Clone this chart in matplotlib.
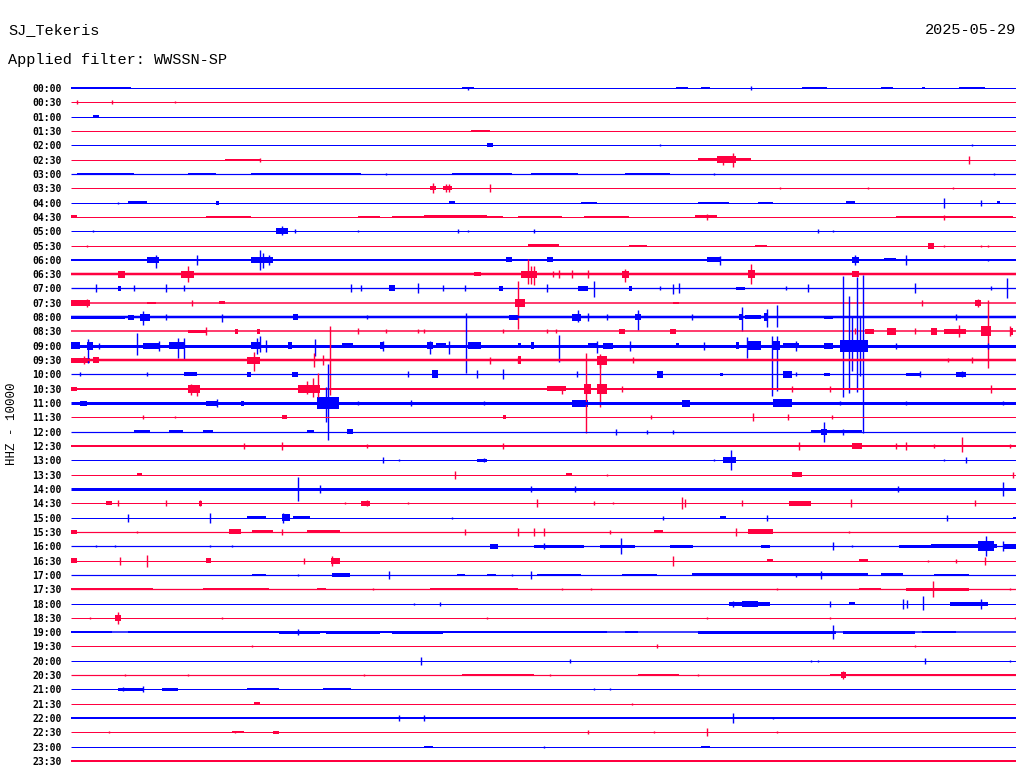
import matplotlib
matplotlib.use("Agg")
import matplotlib.pyplot as plt

STATION = "SJ_Tekeris"
DATE = "2025-05-29"
FILTER = "Applied filter: WWSSN-SP"
CHANNEL = "HHZ - 10000"

BLUE = "#0000ff"
RED = "#ff0040"

# one row per half hour, x axis = minutes into the row
row_labels = [f"{h:02d}:{m:02d}" for h in range(24) for m in (0, 30)]

# background noise level of each row (trace thickness, px)
row_noise = [1, 1, 1, 1, 1, 1, 1.2, 1, 1, 1, 1, 1, 2, 2.5, 1.3, 1.5,
             2.5, 1.5, 3, 2.5, 1.2, 2, 3, 1, 1.2, 2, 1, 1, 3, 1, 1, 1.2,
             1.2, 1, 1.2, 1.3, 1, 1, 1.5, 1, 1, 1.2, 1, 1, 2, 1, 1, 1.5]

# noisy stretches: (start min, end min, half amplitude px)
busy = {
    0: [(0.0, 1.9, 1.2), (12.4, 12.8, 1.2), (19.2, 19.6, 1.2), (20.0, 20.3, 1.2),
        (23.2, 24.0, 1.2), (25.7, 26.1, 1.2), (27.0, 27.1, 1), (28.2, 29.0, 1.2)],
    2: [(0.7, 0.9, 1.5)],
    3: [(12.7, 13.3, 0.8)],
    4: [(13.2, 13.4, 2)],
    5: [(4.9, 6.0, 0.8), (19.9, 21.6, 1.5), (20.5, 21.1, 3.5)],
    6: [(0.2, 2.0, 0.8), (3.7, 4.6, 1), (5.7, 9.2, 0.7), (12.1, 14.0, 1),
        (14.6, 16.1, 1), (17.6, 19.0, 1)],
    7: [(11.4, 11.6, 2), (11.8, 12.1, 2)],
    8: [(1.8, 2.4, 1.2), (4.6, 4.7, 2), (12.0, 12.2, 1.5), (16.2, 16.7, 1),
        (19.9, 20.9, 1), (21.8, 22.3, 1), (24.6, 24.9, 1.2), (29.4, 29.5, 1.2)],
    9: [(0.0, 0.2, 1.5), (4.3, 5.7, 1.2), (9.1, 9.8, 1), (10.2, 13.7, 1),
        (11.2, 13.2, 1.5), (14.2, 15.6, 1.2), (16.3, 17.7, 1), (19.8, 20.5, 1.5),
        (26.2, 29.9, 1.2)],
    10: [(6.5, 6.9, 3)],
    11: [(14.5, 15.5, 1.5), (17.7, 18.3, 1), (21.7, 22.1, 0.8), (27.2, 27.4, 3)],
    12: [(0.3, 2.4, 1), (2.4, 2.8, 3), (5.7, 6.4, 3), (13.8, 14.0, 2.5),
         (15.1, 15.3, 2.5), (20.2, 20.6, 2.5), (24.8, 25.0, 3), (25.8, 26.2, 1.5),
         (26.5, 27.1, 1.2)],
    13: [(1.5, 1.7, 3.5), (3.5, 3.9, 3.5), (12.8, 13.0, 2), (14.3, 14.8, 3.5),
         (17.5, 17.7, 3.5), (21.5, 21.7, 4), (24.8, 25.0, 3)],
    14: [(1.5, 1.6, 2.5), (10.1, 10.3, 3), (13.6, 13.7, 2.5), (16.1, 16.4, 2.5),
         (17.7, 17.8, 2.5), (21.1, 21.4, 1.5)],
    15: [(0.0, 0.6, 3), (2.4, 2.7, 1.2), (4.7, 4.9, 1.5), (14.1, 14.4, 4),
         (19.1, 19.3, 1.2), (28.7, 28.9, 3)],
    16: [(0.0, 1.7, 1.5), (1.8, 2.0, 2.5), (2.2, 2.5, 3.5), (7.05, 7.2, 3),
         (13.9, 14.2, 2.5), (15.9, 16.2, 3.5), (17.9, 18.1, 3), (21.2, 21.3, 3),
         (21.4, 21.9, 2), (22.0, 22.1, 4), (23.9, 24.2, 1.5)],
    17: [(3.7, 4.3, 1.5), (5.2, 5.3, 2.5), (5.9, 6.0, 2.5), (17.4, 17.6, 2.5),
         (19.0, 19.2, 2.5), (25.2, 25.5, 2.5), (25.9, 26.2, 3.5), (27.3, 27.5, 3.5),
         (27.7, 28.4, 2.5), (28.9, 29.2, 5), (29.8, 29.9, 3.5)],
    18: [(0.0, 0.3, 3.5), (0.5, 0.7, 4), (2.3, 2.8, 3), (3.1, 3.6, 3.5),
         (5.7, 6.0, 3.5), (6.9, 7.0, 3.5), (8.6, 8.95, 2.5), (9.8, 9.9, 3.5),
         (11.3, 11.5, 3.5), (11.6, 11.9, 2.5), (12.6, 13.0, 3.5), (14.2, 14.3, 2.5),
         (14.6, 14.7, 3.5), (16.4, 16.7, 2.5), (16.9, 17.2, 3), (19.2, 19.3, 2.5),
         (21.1, 21.2, 3.5), (21.5, 21.9, 4.5), (22.3, 22.5, 4.5), (22.6, 23.1, 2.5),
         (23.9, 24.2, 3), (24.4, 25.3, 6)],
    19: [(0.0, 0.6, 2.5), (0.7, 0.9, 3), (5.6, 6.0, 3.5), (14.2, 14.3, 4),
         (16.7, 17.0, 4.5)],
    20: [(3.6, 4.0, 2), (5.6, 5.7, 2.5), (7.0, 7.2, 2.5), (11.45, 11.65, 4),
         (18.6, 18.8, 3.5), (20.6, 20.7, 1.5), (22.6, 22.9, 3.5), (23.9, 24.1, 1.5),
         (26.5, 26.95, 1.5), (28.1, 28.4, 2.5)],
    21: [(0.0, 0.2, 2), (3.7, 4.1, 4), (7.2, 7.9, 4), (15.1, 15.7, 2.5),
         (16.3, 16.5, 5), (16.7, 17.0, 5)],
    22: [(0.3, 0.5, 2.5), (4.3, 4.65, 2.5), (5.4, 5.5, 2.5), (7.8, 8.5, 6),
         (15.9, 16.4, 3.5), (19.4, 19.65, 3.5), (22.3, 22.9, 4)],
    23: [(6.7, 6.85, 2), (13.7, 13.8, 2)],
    24: [(2.0, 2.5, 1.2), (3.1, 3.55, 1.2), (4.2, 4.5, 1.2), (7.5, 7.7, 1.2),
         (8.75, 8.95, 2.5), (23.5, 25.1, 1.5), (23.8, 24.0, 3)],
    25: [(0.0, 14.0, 1.2), (17.1, 18.4, 1.2), (19.9, 22.5, 1.2), (24.8, 25.1, 3)],
    26: [(12.9, 13.2, 1.5), (20.7, 21.1, 3)],
    27: [(2.1, 2.25, 1.5), (15.7, 15.9, 1.2), (22.9, 23.2, 2.5)],
    29: [(1.1, 1.3, 2), (4.05, 4.15, 2.5), (9.2, 9.5, 2.5), (22.8, 23.5, 2.5)],
    30: [(5.6, 6.2, 1.2), (6.7, 6.95, 3.5), (7.05, 7.6, 1.2), (20.6, 20.8, 1.5),
         (29.9, 30.0, 1)],
    31: [(0.0, 0.2, 2), (5.0, 5.4, 2.5), (5.75, 6.4, 1.5), (7.5, 8.55, 1.5),
         (18.5, 18.8, 1.5), (21.5, 22.3, 2.5)],
    32: [(13.3, 13.55, 2.5), (14.7, 16.3, 1.5), (16.8, 17.9, 1.5), (19.0, 19.75, 1.5),
         (21.9, 22.2, 1.5), (26.3, 27.3, 1.5), (27.3, 29.4, 2), (28.8, 29.3, 5),
         (29.6, 30.0, 2.5)],
    33: [(0.0, 0.2, 2.5), (4.3, 4.45, 2.5), (8.25, 8.55, 3), (22.1, 22.3, 1.5),
         (25.0, 25.3, 1.5)],
    34: [(5.75, 6.2, 1.2), (8.3, 8.85, 2), (12.25, 12.5, 1.2), (13.2, 13.5, 1.2),
         (14.8, 16.2, 1.2), (17.5, 18.6, 1.2), (19.7, 25.3, 1.5), (25.7, 26.4, 1.5),
         (27.4, 28.5, 1.2)],
    35: [(0.0, 2.6, 1.2), (4.2, 6.3, 1.2), (7.8, 8.1, 1.2), (11.4, 14.2, 1.2),
         (25.0, 25.7, 1.2), (26.5, 28.5, 1.5)],
    36: [(20.9, 22.2, 2), (21.3, 21.8, 3), (24.7, 24.9, 1.5), (27.9, 29.1, 2)],
    37: [(1.4, 1.6, 3)],
    38: [(0.0, 1.3, 1), (1.8, 17.0, 1), (6.6, 7.9, 1.5), (8.1, 9.8, 1.5),
         (10.2, 11.8, 1.5), (14.8, 15.5, 1.2), (17.6, 18.0, 1.2), (19.9, 24.3, 1.5),
         (24.5, 26.8, 1.5), (27.0, 28.1, 1.2)],
    41: [(12.4, 14.7, 0.8), (18.0, 19.3, 1.2), (24.1, 28.0, 1.2), (24.45, 24.6, 3),
         (28.0, 30.0, 1.2)],
    42: [(1.5, 2.3, 1.5), (2.9, 3.4, 1.2), (5.6, 6.6, 1), (8.0, 8.9, 1)],
    43: [(5.8, 6.0, 1.5)],
    44: [(0.0, 30.0, 1.2)],
    45: [(5.1, 5.5, 1), (6.4, 6.6, 1.2)],
    46: [(11.2, 11.5, 1), (20.0, 20.3, 1.2)],
    47: [(0.0, 30.0, 1)],
}

# single spikes: (minute, up px, down px)
spikes = {
    0: [(12.6, 1, 2), (21.6, 2, 2)],
    1: [(0.2, 2, 2), (1.3, 2, 2), (3.3, 1, 1)],
    4: [(18.7, 1, 1), (28.6, 1, 1)],
    5: [(6.0, 2, 2), (20.7, 4, 5), (21.0, 7, 7), (28.5, 4, 4)],
    6: [(10.0, 1, 1), (20.4, 1, 1), (29.3, 1, 1)],
    7: [(11.5, 5, 5), (11.9, 4, 4), (12.0, 4, 4), (13.3, 4, 4), (22.5, 1, 1),
        (25.3, 1, 1), (28.0, 1, 1)],
    8: [(1.5, 1, 1), (27.7, 5, 5), (28.9, 3, 3)],
    9: [(20.2, 3, 3), (27.7, 2, 3)],
    10: [(0.7, 1, 1), (6.7, 5, 4), (7.1, 2, 2), (9.1, 1, 1), (12.3, 2, 2),
         (12.6, 1, 1), (14.7, 2, 2), (23.7, 2, 2), (24.2, 1, 1)],
    11: [(0.5, 1, 1), (27.7, 1, 1), (28.9, 1, 1), (29.1, 1, 1)],
    12: [(2.7, 5, 8), (4.0, 5, 5), (6.0, 10, 10), (6.1, 7, 8), (6.3, 5, 5),
         (20.6, 4, 5), (24.9, 5, 5), (26.5, 5, 5), (29.1, 1, 1)],
    13: [(3.7, 8, 8), (14.5, 15, 10), (14.6, 8, 10), (14.7, 8, 11), (15.3, 3, 3),
         (15.5, 4, 4), (15.9, 4, 4), (16.4, 4, 4), (17.6, 5, 8), (21.6, 10, 10)],
    14: [(0.8, 4, 4), (2.0, 3, 3), (3.0, 4, 4), (3.6, 3, 3), (8.9, 4, 4),
         (9.2, 3, 3), (11.0, 5, 5), (11.8, 3, 3), (12.5, 3, 3), (15.1, 4, 4),
         (16.6, 7, 9), (18.7, 2, 2), (19.1, 4, 6), (19.3, 5, 5), (22.7, 2, 2),
         (23.4, 4, 4), (26.8, 5, 5), (29.2, 2, 2), (29.7, 10, 10)],
    15: [(0.5, 4, 4), (3.85, 3, 3), (14.2, 22, 26), (27.0, 3, 3), (28.8, 4, 4)],
    16: [(2.3, 6, 8), (3.0, 3, 3), (4.8, 3, 5), (9.4, 2, 2), (16.1, 7, 5),
         (16.4, 4, 4), (17.0, 3, 3), (18.0, 7, 13), (19.7, 3, 3), (21.3, 10, 14),
         (22.1, 8, 10), (22.4, 12, 10), (28.1, 3, 3)],
    17: [(4.3, 4, 4), (9.1, 3, 3), (10.0, 2, 2), (11.0, 2, 2), (11.2, 2, 2),
         (13.7, 2, 2), (15.1, 2, 2), (15.4, 2, 2), (24.9, 3, 3), (26.8, 3, 3),
         (28.2, 6, 6), (29.1, 31, 37), (29.8, 5, 5)],
    18: [(0.55, 7, 17), (0.9, 3, 3), (2.1, 13, 9), (2.8, 5, 5), (3.4, 8, 12),
         (3.6, 8, 14), (5.9, 8, 8), (6.0, 10, 6), (6.2, 6, 6), (7.75, 7, 10),
         (9.9, 5, 5), (11.4, 5, 8), (12.0, 5, 8), (12.54, 33, 27), (15.5, 11, 16),
         (16.7, 5, 7), (17.75, 5, 5), (20.1, 4, 4), (21.45, 9, 12), (22.25, 10, 50),
         (22.4, 10, 45), (23.0, 5, 5), (24.5, 70, 51), (24.7, 50, 47), (24.8, 30, 25),
         (24.95, 69, 46), (25.05, 30, 30), (25.15, 71, 87), (26.2, 3, 3), (29.1, 3, 3)],
    19: [(0.4, 4, 4), (5.8, 8, 11), (7.7, 7, 7), (8.0, 5, 5), (8.22, 34, 35),
         (13.3, 3, 4), (14.2, 3, 3), (16.8, 6, 8), (17.85, 3, 3), (27.85, 2, 2),
         (28.6, 3, 3)],
    20: [(0.3, 2, 2), (2.4, 2, 2), (10.7, 3, 3), (12.9, 4, 4), (13.7, 5, 5),
         (16.06, 3, 3), (23.0, 2, 2), (26.95, 3, 3), (28.3, 3, 3)],
    21: [(3.8, 5, 6), (4.0, 4, 7), (7.5, 8, 5), (7.68, 11, 8), (7.84, 16, 8),
         (15.6, 3, 5), (16.35, 36, 44), (16.8, 31, 18), (17.5, 3, 3), (22.9, 3, 3),
         (24.1, 3, 3), (29.2, 4, 4)],
    22: [(4.65, 4, 4), (8.1, 16, 19), (8.16, 39, 37), (8.45, 5, 5), (9.1, 2, 2),
         (10.8, 3, 3), (13.1, 2, 2), (24.4, 2, 2), (26.5, 2, 2), (29.6, 2, 2)],
    23: [(2.3, 2, 2), (3.3, 1, 1), (18.4, 2, 2), (21.65, 4, 4), (22.75, 3, 3),
         (24.15, 2, 2)],
    24: [(17.3, 3, 3), (18.3, 2, 2), (19.1, 2, 2), (23.9, 10, 10), (24.5, 3, 3)],
    25: [(5.5, 3, 3), (6.7, 4, 4), (9.4, 2, 2), (13.7, 3, 3), (23.1, 4, 4),
         (26.2, 3, 3), (26.5, 4, 4), (27.4, 2, 2), (28.3, 9, 6), (29.8, 2, 2)],
    26: [(9.9, 3, 3), (10.4, 1, 1), (13.1, 2, 2), (20.4, 1, 1), (20.95, 10, 10),
         (27.7, 1, 1), (28.4, 3, 3)],
    27: [(12.2, 4, 4), (17.0, 1, 1), (29.9, 3, 3)],
    28: [(7.2, 12, 12), (7.9, 4, 4), (14.6, 3, 3), (16.0, 3, 3), (26.25, 3, 3),
         (29.6, 7, 7)],
    29: [(1.5, 3, 3), (3.0, 3, 3), (4.1, 3, 3), (8.7, 1, 1), (9.4, 3, 3),
         (10.7, 1, 1), (14.8, 4, 4), (16.6, 2, 2), (17.2, 1, 1), (19.4, 6, 6),
         (19.5, 4, 4), (21.3, 3, 3), (24.75, 4, 4), (28.7, 3, 3)],
    30: [(1.8, 4, 4), (4.4, 5, 5), (6.73, 5, 5), (12.1, 1, 1), (18.8, 2, 2),
         (22.1, 3, 3), (27.8, 3, 3)],
    31: [(2.1, 1, 1), (6.7, 3, 3), (12.5, 3, 3), (14.2, 4, 4), (14.7, 4, 4),
         (15.0, 4, 4), (17.1, 2, 2), (21.1, 4, 4), (24.7, 1, 1)],
    32: [(0.8, 1, 1), (1.4, 1, 1), (4.4, 1, 1), (5.1, 1, 1), (15.0, 3, 3),
         (17.45, 8, 8), (24.2, 4, 4), (24.8, 1, 1), (29.05, 10, 10), (29.6, 5, 5)],
    33: [(1.55, 4, 4), (2.4, 6, 6), (7.4, 3, 3), (8.3, 5, 5), (19.1, 5, 5),
         (27.2, 1, 1), (28.1, 2, 2), (29.0, 4, 4)],
    34: [(7.2, 1, 1), (10.1, 4, 4), (14.0, 1, 1), (14.6, 4, 4), (23.0, 2, 2),
         (23.8, 4, 4)],
    35: [(9.6, 1, 1), (15.6, 1, 1), (16.5, 1, 1), (22.4, 1, 1), (27.37, 8, 8),
         (29.8, 1, 1)],
    36: [(10.9, 1, 1), (11.7, 2, 2), (21.0, 3, 3), (24.1, 3, 3), (26.4, 5, 5),
         (26.55, 4, 4), (27.05, 8, 6), (28.9, 5, 5)],
    37: [(0.6, 1, 1), (1.5, 6, 6), (4.8, 1, 1), (13.2, 1, 1), (20.2, 1, 1),
         (24.1, 1, 1), (29.97, 1, 1)],
    38: [(7.2, 3, 3), (24.2, 7, 7)],
    39: [(5.75, 1, 1), (18.6, 2, 2), (26.8, 1, 1)],
    40: [(11.1, 4, 4), (15.85, 2, 2), (23.5, 1, 1), (23.7, 1, 1), (27.1, 3, 3),
         (29.8, 1, 1)],
    41: [(1.7, 1, 1), (3.7, 1, 1), (9.3, 1, 1), (15.2, 1, 1), (19.9, 1, 1),
         (24.5, 4, 4)],
    42: [(1.65, 2, 2), (2.3, 3, 3), (16.6, 1, 1), (17.1, 1, 1)],
    43: [(17.8, 1, 1)],
    44: [(10.4, 3, 3), (11.2, 3, 3), (21.0, 5, 5), (22.3, 1, 1)],
    45: [(1.2, 1, 1), (5.2, 1, 1), (6.5, 1, 1), (16.4, 2, 2), (18.5, 1, 1),
         (20.2, 4, 4), (22.4, 1, 1)],
    46: [(15.0, 1, 1)],
}

ROW_PX = 14.32  # vertical spacing between rows in the 1024x780 layout
PT = 0.72       # one pixel in points at 100 dpi

fig = plt.figure(figsize=(10.24, 7.80), dpi=100)
ax = fig.add_axes([71 / 1024, 0, 945 / 1024, 1])
ax.set_xlim(0, 30)
ax.set_ylim((780 - 88) / ROW_PX, -88 / ROW_PX)

for i, lab in enumerate(row_labels):
    col = BLUE if i % 2 == 0 else RED
    ax.hlines(i, 0, 30, color=col, lw=row_noise[i] * PT)
    for t0, t1, half in busy.get(i, []):
        ax.bar(t0, 2 * half / ROW_PX, width=max(t1 - t0, 0.04), bottom=i - half / ROW_PX,
               align="edge", color=col, linewidth=0)
    for t, up, down in spikes.get(i, []):
        ax.vlines(t, i - up / ROW_PX, i + down / ROW_PX, color=col, lw=1.4 * PT)

ax.set_yticks(range(len(row_labels)))
ax.set_yticklabels(row_labels, family="DejaVu Sans Mono", fontsize=7, fontweight="bold")
ax.tick_params(axis="y", length=0, pad=6.5)
ax.set_xticks([])
for s in ax.spines.values():
    s.set_visible(False)

fig.text(8 / 1024, 1 - 30 / 780, STATION, family="Liberation Mono", fontsize=11, va="center")
fig.text(1016 / 1024, 1 - 30 / 780, DATE, family="Liberation Mono", fontsize=11,
         va="center", ha="right")
fig.text(8 / 1024, 1 - 60 / 780, FILTER, family="Liberation Mono", fontsize=11, va="center")
fig.text(12 / 1024, 1 - 424 / 780, CHANNEL, family="Liberation Mono", fontsize=9,
         rotation=90, va="center", ha="center")

fig.savefig("out.png", dpi=100)
